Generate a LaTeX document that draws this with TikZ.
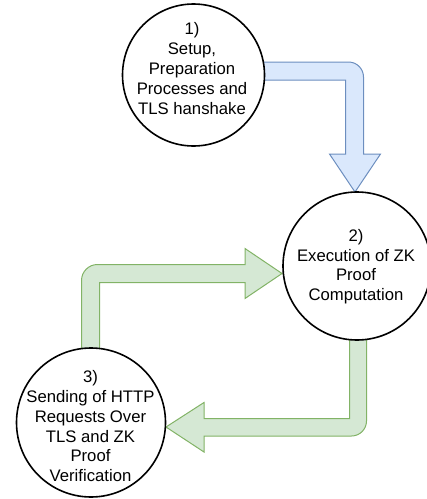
\documentclass[tikz,border=0pt]{standalone}
\usepackage{fontspec}
\setmainfont{Liberation Sans}
\definecolor{bluefill}{HTML}{DAE8FC}
\definecolor{bluedraw}{HTML}{6C8EBF}
\definecolor{greenfill}{HTML}{D5E8D4}
\definecolor{greendraw}{HTML}{82B366}
\begin{document}
\begin{tikzpicture}[x=1pt,y=-1pt,
  stage/.style={circle, draw=black, line width=1.6pt, fill=white, inner sep=0pt},
  label/.style={align=center, inner sep=0pt, font=\fontsize{16.7}{19.8}\selectfont},
  bluearrow/.style={fill=bluefill, draw=bluedraw, line width=1pt, line join=miter},
  greenarrow/.style={fill=greenfill, draw=greendraw, line width=1pt, line join=miter}]
\useasboundingbox (0,0) rectangle (427,499);
\clip (0,0) rectangle (427,499);

% circle positions
\coordinate (p1) at (193.5,75);
\coordinate (p2) at (357,266);
\coordinate (p3) at (91,422.5);

% block arrows (drawn first, circles cover their tails)
\draw[bluearrow] (250,62) [rounded corners=15pt] -- (363.5,62) [sharp corners] -- (363.5,154) -- (380.5,154) -- (355,192) -- (329.5,154) -- (345.5,154) -- (345.5,80) -- (250,80) -- cycle;

\draw[greenarrow] (81.5,370) [rounded corners=16pt] -- (81.5,264.5) [sharp corners] -- (245,264.5) -- (245,248.5) -- (282,273.5) -- (245,298.5) -- (245,282.5) -- (99.5,282.5) -- (99.5,370) -- cycle;

\draw[greenarrow] (349.5,320) -- (349.5,418.5) -- (204,418.5) -- (204,402.5) -- (166,427) -- (204,452) -- (204,436) [rounded corners=15pt] -- (366.5,436) [sharp corners] -- (366.5,320) -- cycle;

% stages
\node[stage, minimum size=142pt] (c1) at (p1) {};
\node[stage, minimum size=148pt] (c2) at (p2) {};
\node[stage, minimum size=149pt] (c3) at (p3) {};

\node[label] (t1) at (192,68.5) {1)\\Setup,\\Preparation\\Processes and\\TLS hanshake};
\node[label] (t2) at (356,266.7) {2)\\Execution of ZK\\Proof\\Computation};
\node[label] (t3) at (90.5,426.3) {3)\\Sending of HTTP\\Requests Over\\TLS and ZK\\Proof\\Verification};
\end{tikzpicture}
\end{document}
